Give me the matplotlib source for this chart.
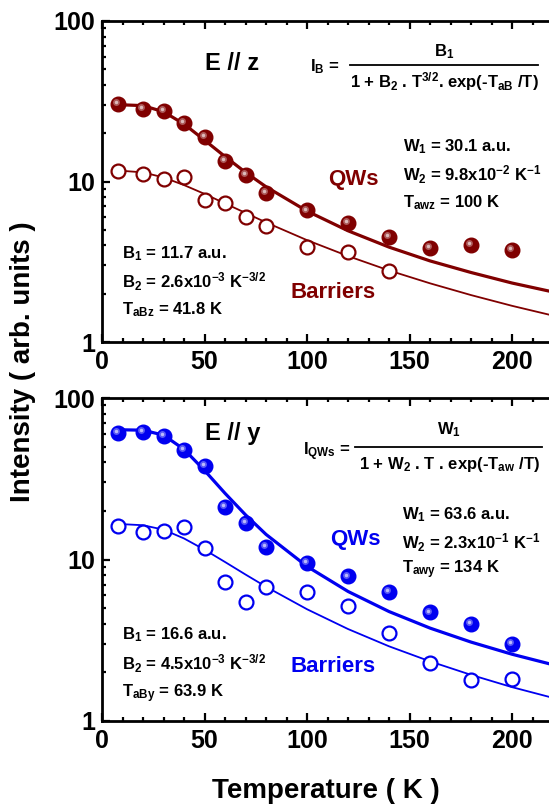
import matplotlib
matplotlib.use("Agg")
import matplotlib.pyplot as plt
from matplotlib.transforms import offset_copy
from matplotlib.lines import Line2D

plt.rcParams['font.family'] = ['Liberation Sans', 'DejaVu Sans']
plt.rcParams['font.weight'] = 'bold'
plt.rcParams['mathtext.fontset'] = 'custom'
plt.rcParams['mathtext.rm'] = 'Liberation Sans:bold'
plt.rcParams['mathtext.it'] = 'Liberation Sans:bold'
plt.rcParams['mathtext.bf'] = 'Liberation Sans:bold'

# measured temperatures (K)
temp = [8, 20, 30, 40, 50, 60, 70, 80, 100, 120, 140, 160, 180, 200]
temp_b_z = [8, 20, 30, 40, 50, 60, 70, 80, 100, 120, 140]

# E // z
qw_z = [30.4, 28.3, 27.6, 23.2, 19.0, 13.4, 11.0, 8.5, 6.6, 5.5, 4.5, 3.85, 4.0, 3.75]
bar_z = [11.7, 11.1, 10.4, 10.6, 7.7, 7.35, 6.0, 5.3, 3.9, 3.65, 2.77]

# E // y
qw_y = [60.4, 61.8, 58.2, 47.6, 37.9, 21.2, 16.8, 12.0, 9.5, 7.85, 6.3, 4.7, 3.97, 3.0]
bar_y = [16.2, 14.9, 15.1, 16.0, 11.7, 7.3, 5.43, 6.8, 6.3, 5.15, 3.52, 2.28, 1.79, 1.82]

# fitted curves, read at these temperatures
temp_fit = [8, 20, 30, 40, 50, 60, 70, 80, 100, 120, 140, 160, 180, 200, 220]
fit_qw_z = [30.1, 29.7, 27.2, 22.8, 18.1, 14.3, 11.4, 9.27, 6.54, 4.93, 3.90, 3.20, 2.71, 2.33, 2.05]
fit_bar_z = [11.7, 11.4, 10.6, 9.50, 8.37, 7.30, 6.37, 5.56, 4.31, 3.43, 2.79, 2.32, 1.96, 1.68, 1.46]
fit_qw_y = [63.6, 63.2, 58.9, 48.1, 35.6, 25.7, 18.9, 14.3, 9.06, 6.34, 4.76, 3.76, 3.08, 2.59, 2.23]
fit_bar_y = [16.6, 16.3, 15.3, 13.5, 11.5, 9.65, 8.07, 6.78, 4.92, 3.71, 2.90, 2.34, 1.93, 1.62, 1.39]

xticks = [0, 50, 100, 150, 200]
yticks = [1, 10, 100]
ytick_labels = ['1', '10', '100']

red = '#800000'
blue = '#0000f0'

W, H = 549, 809
fig = plt.figure(figsize=(W / 100, H / 100), dpi=100)


def fx(px):
    return px / W


def fy(py):
    return 1 - py / H


ax1 = fig.add_axes([fx(102), fy(342), 1 - fx(102), (342 - 21) / H])
ax2 = fig.add_axes([fx(102), fy(721), 1 - fx(102), (721 - 398) / H])


def style(ax):
    ax.set_yscale('log')
    ax.set_xlim(0, 218)
    ax.set_ylim(1, 100)
    ax.set_xticks(xticks)
    ax.set_xticks(range(10, 220, 10), minor=True)
    ax.set_yticks(yticks)
    ax.set_yticklabels(ytick_labels)
    ax.spines['right'].set_visible(False)
    for s in ['left', 'top', 'bottom']:
        ax.spines[s].set_linewidth(2)
    ax.tick_params(which='both', direction='in', top=True, right=False, width=1.6)
    ax.tick_params(which='major', length=5.5, labelsize=18, pad=6)
    ax.tick_params(which='minor', length=3)
    ax.tick_params(axis='y', which='major', pad=5)


def spheres(ax, x, y, c):
    ax.plot(x, y, 'o', color=c, ms=10.5, mec=c, zorder=4)
    tr = offset_copy(ax.transData, fig=fig, x=-1.4, y=1.4, units='points')
    ax.plot(x, y, 'o', color='white', alpha=0.35, ms=5, mew=0, transform=tr, zorder=5)
    ax.plot(x, y, 'o', color='white', alpha=0.6, ms=2.5, mew=0, transform=tr, zorder=6)


for ax in (ax1, ax2):
    style(ax)

# top panel
ax1.plot(temp_fit, fit_qw_z, color=red, lw=2.3, zorder=3)
ax1.plot(temp_fit, fit_bar_z, color=red, lw=1.3, zorder=3)
spheres(ax1, temp, qw_z, red)
ax1.plot(temp_b_z, bar_z, 'o', mfc='white', mec=red, mew=1.6, ms=10, zorder=4)

# bottom panel
ax2.plot(temp_fit, fit_qw_y, color=blue, lw=2.3, zorder=3)
ax2.plot(temp_fit, fit_bar_y, color=blue, lw=1.3, zorder=3)
spheres(ax2, temp, qw_y, blue)
ax2.plot(temp, bar_y, 'o', mfc='white', mec=blue, mew=1.6, ms=10, zorder=4)

ax2.set_xlabel('Temperature ( K )', fontsize=20, fontweight='bold', labelpad=18)
fig.text(fx(23), fy(362), 'Intensity ( arb. units )', rotation=90, fontsize=20,
         fontweight='bold', ha='center', va='center')

# panel titles and formulas
fig.text(fx(205), fy(63), 'E // z', fontsize=17, ha='left', va='center')
fig.text(fx(205), fy(433), 'E // y', fontsize=17, ha='left', va='center')

fs = 12
fig.text(fx(310), fy(67), 'I$_\\mathrm{B}$ =', fontsize=fs, ha='left', va='center')
fig.text(fx(444), fy(52), 'B$_1$', fontsize=fs, ha='center', va='center')
fig.add_artist(Line2D([fx(350), fx(538)], [fy(65), fy(65)], color='black', lw=1.3))
fig.text(fx(444), fy(82), '1 + B$_2$ . T$^{3/2}$. exp(-T$_\\mathrm{aB}$ /T)', fontsize=fs,
         ha='center', va='center')

fig.text(fx(303), fy(452), 'I$_\\mathrm{QWs}$ =', fontsize=fs, ha='left', va='center')
fig.text(fx(449), fy(430), 'W$_1$', fontsize=fs, ha='center', va='center')
fig.add_artist(Line2D([fx(355), fx(542)], [fy(447), fy(447)], color='black', lw=1.3))
fig.text(fx(449), fy(465), '1 + W$_2$ . T . exp(-T$_\\mathrm{aw}$ /T)', fontsize=fs,
         ha='center', va='center')

# fit parameters
fig.text(fx(403), fy(147), 'W$_1$ = 30.1 a.u.', fontsize=fs, va='center')
fig.text(fx(403), fy(175), 'W$_2$ = 9.8x10$^{-2}$ K$^{-1}$', fontsize=fs, va='center')
fig.text(fx(403), fy(203), 'T$_\\mathrm{awz}$ = 100 K', fontsize=fs, va='center')

fig.text(fx(122), fy(254), 'B$_1$ = 11.7 a.u.', fontsize=fs, va='center')
fig.text(fx(122), fy(282), 'B$_2$ = 2.6x10$^{-3}$ K$^{-3/2}$', fontsize=fs, va='center')
fig.text(fx(122), fy(310), 'T$_\\mathrm{aBz}$ = 41.8 K', fontsize=fs, va='center')

fig.text(fx(402), fy(515), 'W$_1$ = 63.6 a.u.', fontsize=fs, va='center')
fig.text(fx(402), fy(543), 'W$_2$ = 2.3x10$^{-1}$ K$^{-1}$', fontsize=fs, va='center')
fig.text(fx(402), fy(570), 'T$_\\mathrm{awy}$ = 134 K', fontsize=fs, va='center')

fig.text(fx(122), fy(635), 'B$_1$ = 16.6 a.u.', fontsize=fs, va='center')
fig.text(fx(122), fy(664), 'B$_2$ = 4.5x10$^{-3}$ K$^{-3/2}$', fontsize=fs, va='center')
fig.text(fx(122), fy(694), 'T$_\\mathrm{aBy}$ = 63.9 K', fontsize=fs, va='center')

# series labels
fig.text(fx(328), fy(180), 'QWs', fontsize=16, color=red, va='center')
fig.text(fx(291), fy(292), 'Barriers', fontsize=16, color=red, va='center')
fig.text(fx(330), fy(540), 'QWs', fontsize=16, color=blue, va='center')
fig.text(fx(291), fy(666), 'Barriers', fontsize=16, color=blue, va='center')

fig.savefig('out.png', dpi=100)
